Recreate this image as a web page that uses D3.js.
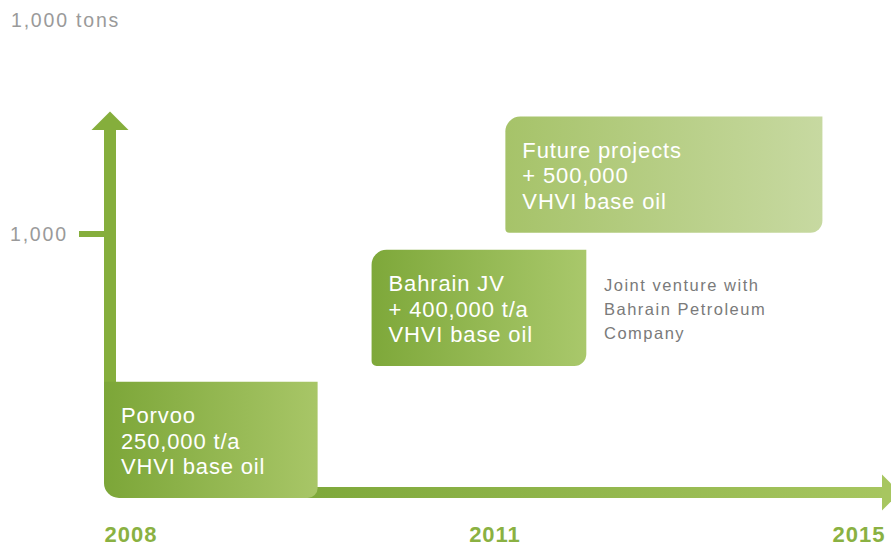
<!DOCTYPE html>
<html>
<head>
<meta charset="utf-8">
<script src="https://cdn.jsdelivr.net/npm/d3@7"></script>
<style>
  body { margin: 0; background: #fff; }
  svg { display: block; font-family: "Liberation Sans", Arial, sans-serif; }
</style>
</head>
<body>
<svg id="chart" width="891" height="546"></svg>
<script>
// timeline labels
const years = ['2008', '2011', '2015']

// capacity boxes (start/end on the timeline, low/high in 1,000 tons)
const boxNames = ['Porvoo', 'Bahrain', 'Future']
const boxLines = [
  ['Porvoo', '250,000 t/a', 'VHVI base oil'],
  ['Bahrain JV', '+ 400,000 t/a', 'VHVI base oil'],
  ['Future projects', '+ 500,000', 'VHVI base oil']
]
const boxStart = [2008, 2010.38, 2011.57]
const boxEnd = [2009.9, 2012.29, 2014.39]
const boxLow = [0, 500, 1005]
const boxHigh = [440, 940, 1445]
const boxColors = [['#7ca638', '#a8c667'], ['#7ea83a', '#a9c86b'], ['#a6c369', '#c7d9a1']]
const boxCorners = [[0, 0, 10, 15], [15, 0, 12, 5], [15, 0, 12, 4]]

const noteLines = ['Joint venture with', 'Bahrain Petroleum', 'Company']
const yTicks = [1000]

const svg = d3.select('#chart')
const x = d3.scaleLinear().domain([2008, 2015]).range([104, 891])
const y = d3.scaleLinear().domain([0, 1000]).range([498, 234])
const xYear = d3.scalePoint().domain(years).range([131, 859])

const axisX = 110
const axisY = 492.5

const boxes = boxNames.map((n, i) => ({
  name: n, lines: boxLines[i], x0: x(boxStart[i]), x1: x(boxEnd[i]),
  y0: y(boxHigh[i]), y1: y(boxLow[i]), c: boxColors[i], r: boxCorners[i]
}))

const defs = svg.append('defs')
boxes.forEach(b => {
  const g = defs.append('linearGradient').attr('id', 'g-' + b.name)
    .attr('x1', 0).attr('x2', 1).attr('y1', 0).attr('y2', 0)
  g.append('stop').attr('offset', 0).attr('stop-color', b.c[0])
  g.append('stop').attr('offset', 1).attr('stop-color', b.c[1])
})
const ag = defs.append('linearGradient').attr('id', 'g-axis')
  .attr('gradientUnits', 'userSpaceOnUse')
  .attr('x1', 300).attr('x2', 891).attr('y1', 0).attr('y2', 0)
ag.append('stop').attr('offset', 0).attr('stop-color', '#7ea83a')
ag.append('stop').attr('offset', 1).attr('stop-color', '#a7c660')

// rounded rect with a radius for each corner: tl, tr, br, bl
function boxPath(x0, y0, x1, y1, r) {
  const [tl, tr, br, bl] = r
  return `M${x0 + tl},${y0}H${x1 - tr}` +
    (tr ? `A${tr},${tr} 0 0 1 ${x1},${y0 + tr}` : '') +
    `V${y1 - br}` + (br ? `A${br},${br} 0 0 1 ${x1 - br},${y1}` : '') +
    `H${x0 + bl}` + (bl ? `A${bl},${bl} 0 0 1 ${x0},${y1 - bl}` : '') +
    `V${y0 + tl}` + (tl ? `A${tl},${tl} 0 0 1 ${x0 + tl},${y0}` : '') + 'Z'
}

// horizontal axis with arrow
svg.append('rect')
  .attr('x', 300).attr('y', axisY - 5.5).attr('width', 584).attr('height', 11)
  .attr('fill', 'url(#g-axis)')
svg.append('path')
  .attr('d', `M882,${axisY - 18}L900,${axisY}L882,${axisY + 18}Z`)
  .attr('fill', '#a7c660')

// vertical axis with arrow
svg.append('rect')
  .attr('x', axisX - 6).attr('y', 128).attr('width', 12).attr('height', 270)
  .attr('fill', '#85ae3c')
svg.append('path')
  .attr('d', `M${axisX - 18.5},130L${axisX},111.5L${axisX + 18.5},130Z`)
  .attr('fill', '#85ae3c')

// y ticks
svg.selectAll('.ytick').data(yTicks).join('rect')
  .attr('class', 'ytick')
  .attr('x', 79).attr('y', d => y(d) - 3).attr('width', axisX - 79).attr('height', 6)
  .attr('fill', '#85ae3c')
svg.selectAll('.ylab').data(yTicks).join('text')
  .attr('class', 'ylab')
  .attr('x', 10).attr('y', d => y(d) + 7)
  .attr('font-size', 19.5).attr('letter-spacing', 1.8).attr('fill', '#9a9a9a')
  .text(d3.format(','))

svg.append('text')
  .attr('x', 11).attr('y', 27)
  .attr('font-size', 19.5).attr('letter-spacing', 1.8).attr('fill', '#9a9a9a')
  .text('1,000 tons')

// boxes
const bg = svg.selectAll('.box').data(boxes).join('g').attr('class', 'box')
bg.append('path')
  .attr('d', d => boxPath(d.x0, d.y0, d.x1, d.y1, d.r))
  .attr('fill', d => `url(#g-${d.name})`)
bg.each(function (d) {
  d3.select(this).selectAll('text').data(d.lines).join('text')
    .attr('x', d.x0 + 17)
    .attr('y', (t, i) => d.y0 + 41 + i * 25.8)
    .attr('font-size', 22).attr('letter-spacing', 0.85).attr('fill', '#fff')
    .text(t => t)
})

// note next to Bahrain box
svg.selectAll('.note').data(noteLines).join('text')
  .attr('class', 'note')
  .attr('x', 604).attr('y', (d, i) => 291 + i * 24)
  .attr('font-size', 16.5).attr('letter-spacing', 1.5).attr('fill', '#7a7a7a')
  .text(d => d)

// year labels
svg.selectAll('.year').data(years).join('text')
  .attr('class', 'year')
  .attr('x', d => xYear(d)).attr('y', 542)
  .attr('text-anchor', 'middle')
  .attr('font-size', 22).attr('letter-spacing', 1).attr('font-weight', 'bold').attr('fill', '#8ab142')
  .text(d => d)
</script>
</body>
</html>
